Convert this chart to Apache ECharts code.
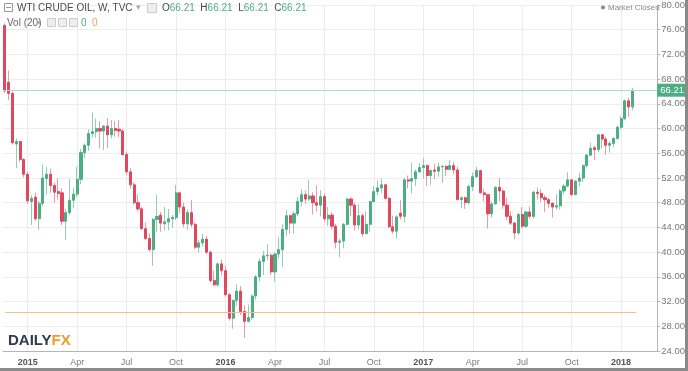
<!DOCTYPE html>
<html><head><meta charset="utf-8">
<script src="https://cdn.jsdelivr.net/npm/echarts@6.0.0/dist/echarts.min.js"></script>
<style>html,body{margin:0;padding:0;background:#fff;}#c{width:688px;height:371px;}</style>
</head><body><div id="c"></div><script>
// ---- data (weekly candles, first week starting 2014-11-24) ----
const firstWeek = '2014-11-24';
const emptyWeeksAfter = 6;
const opens = [
76.7,67.5,65.7,57.5,57.9,55.0,52.6,48.2,48.9,45.4,
47.9,51.9,52.6,50.8,49.8,49.6,45.0,46.4,48.4,49.4,
51.8,56.1,57.3,59.2,59.5,60.0,59.6,60.4,59.0,60.0,
59.9,59.6,55.8,53.0,50.9,48.0,47.0,43.8,42.2,40.4,
45.3,46.0,44.6,44.9,45.4,45.6,49.6,47.3,44.6,46.4,
44.5,40.8,41.5,42.1,40.0,35.4,34.7,38.1,37.0,33.1,
29.3,32.2,33.7,30.4,28.8,29.4,32.9,36.0,38.5,39.4,
39.5,36.8,39.7,40.4,43.7,45.9,44.7,46.2,48.2,49.3,
48.6,49.1,48.0,47.6,49.0,45.4,46.0,44.2,41.6,41.8,
44.5,48.6,47.6,44.4,45.9,43.0,44.5,48.2,49.8,50.4,
50.9,48.7,44.1,43.4,46.3,45.8,51.7,51.5,51.9,53.0,
53.7,54.0,52.4,53.3,53.1,53.8,53.9,53.4,54.0,53.3,
48.5,48.8,48.0,50.6,52.2,53.2,49.6,49.3,46.2,47.8,
50.5,49.9,47.6,45.8,44.7,43.1,46.1,44.2,46.5,45.8,
49.7,49.5,48.8,48.5,47.9,47.3,47.5,49.9,50.7,51.7,
49.3,51.5,52.0,54.0,55.7,56.9,56.6,59.0,58.3,57.3,
57.6,58.4,60.2,61.6,64.5,63.5];
const highs = [
77.0,69.4,66.0,58.4,58.0,55.2,53.0,49.2,49.6,48.3,
54.2,53.8,53.5,51.3,52.0,50.3,47.0,51.8,50.4,53.8,
56.7,57.6,59.9,62.6,61.6,61.2,60.6,61.7,61.4,61.2,
61.4,59.9,56.3,53.6,51.3,49.3,47.3,44.8,43.0,45.5,
49.3,46.5,47.3,47.0,46.0,50.9,49.8,48.0,46.9,48.4,
44.8,42.0,43.0,42.6,40.2,37.0,38.3,38.8,37.8,33.4,
32.3,34.8,34.5,31.4,31.5,33.2,36.3,39.0,40.2,41.3,
39.8,39.9,42.4,44.5,46.8,46.1,46.6,48.9,50.2,50.0,
51.7,49.7,50.8,50.0,49.5,47.3,46.5,44.6,42.2,44.7,
48.8,48.9,48.0,47.8,46.3,46.6,48.3,50.7,51.6,51.9,
51.0,49.0,45.9,46.0,48.4,52.0,52.4,54.5,53.4,54.4,
55.2,54.2,53.4,54.3,54.5,54.0,54.0,54.9,54.6,53.8,
49.0,49.0,50.9,52.9,53.8,53.3,50.2,49.4,48.2,50.6,
52.0,50.2,48.8,46.6,44.9,46.3,47.3,46.7,47.4,49.9,
50.4,50.2,49.3,48.8,48.1,49.4,50.2,51.0,52.9,51.8,
51.6,52.8,54.2,55.9,57.7,57.2,59.1,59.1,58.7,58.0,
58.6,60.5,62.0,64.7,65.0,66.6];
const lows = [
65.7,64.6,57.4,53.6,54.6,52.1,47.8,44.4,45.1,43.6,
47.4,49.3,49.6,48.0,48.5,44.4,42.0,46.0,47.1,48.9,
51.0,55.2,56.4,58.6,58.5,56.8,56.5,56.8,58.4,58.7,
58.6,55.6,52.5,50.3,47.7,46.6,43.6,41.9,40.1,37.8,
43.2,43.3,43.5,43.5,43.9,45.2,46.3,44.0,43.6,44.0,
40.5,39.9,40.9,39.7,35.1,34.5,34.4,36.2,32.8,28.9,
27.6,31.3,29.8,26.1,28.6,29.0,32.3,35.3,36.3,38.7,
36.3,35.2,39.0,37.6,42.6,43.0,43.0,45.8,47.4,47.8,
48.3,46.1,46.6,45.8,44.9,44.3,43.7,40.6,39.2,40.6,
44.3,45.8,43.5,43.7,42.5,42.9,43.3,48.0,49.2,49.6,
48.5,44.0,43.0,42.2,45.3,44.8,50.3,49.5,50.7,52.8,
51.9,50.7,50.9,51.8,52.2,51.2,52.3,53.2,52.6,48.4,
47.1,47.0,47.7,49.9,52.0,49.5,48.2,43.8,45.6,47.7,
48.2,47.0,45.2,44.4,42.1,42.8,43.8,43.9,45.4,45.4,
48.5,48.1,46.5,47.2,45.6,46.9,46.9,49.4,50.5,49.1,
49.2,50.7,51.3,53.7,55.5,54.9,56.2,56.8,55.8,56.1,
57.0,58.2,59.9,61.4,61.9,63.0];
const closes = [
66.1,65.7,57.7,57.9,55.0,52.6,48.3,48.7,45.4,47.9,
52.0,52.6,50.8,49.7,49.5,45.0,46.4,48.4,49.4,51.8,
56.1,57.3,59.2,59.5,60.0,59.6,60.4,59.0,60.0,59.7,
59.6,55.8,53.0,50.9,48.0,47.0,43.8,42.2,40.4,45.3,
45.8,44.7,44.9,45.4,45.6,49.6,47.3,44.6,46.4,44.5,
40.8,41.5,42.1,40.0,35.4,34.7,38.1,37.0,33.1,29.3,
32.2,33.7,30.4,28.8,29.4,32.9,36.0,38.5,39.4,39.5,
36.8,39.7,40.4,43.7,45.9,44.7,46.2,48.2,49.3,48.6,
49.1,48.0,47.6,49.0,45.4,46.0,44.2,41.6,41.8,44.5,
48.6,47.6,44.4,45.9,43.0,44.5,48.2,49.8,50.4,50.9,
48.7,44.1,43.4,45.7,45.8,51.7,51.5,51.9,53.0,53.7,
54.0,52.4,53.2,53.1,53.8,53.9,53.4,54.0,53.3,48.5,
48.8,48.0,50.6,52.2,53.2,49.6,49.3,46.2,47.8,50.5,
49.9,47.6,45.8,44.7,43.1,46.1,44.2,46.5,45.8,49.7,
49.5,48.8,48.5,47.9,47.3,47.5,49.9,50.7,51.7,49.3,
51.5,52.0,54.0,55.7,56.8,56.6,59.0,58.3,57.3,57.6,
58.4,60.2,61.6,64.5,63.5,66.21];
const lastPrice = 66.21;
const orangeLevel = 30.3;
const yMin = 24, yMax = 80, yStep = 4;
const monthNames = ['Jan','Feb','Mar','Apr','May','Jun','Jul','Aug','Sep','Oct','Nov','Dec'];

// ---- build categories (weeks) ----
const weeks = [];
const t0 = Date.parse(firstWeek + 'T00:00:00Z');
for (let i = 0; i < opens.length + emptyWeeksAfter; i++) {
  weeks.push(new Date(t0 + i * 7 * 86400000).toISOString().slice(0, 10));
}
function isQuarterStart(v) {
  const d = new Date(v + 'T00:00:00Z');
  return d.getUTCDate() <= 7 && d.getUTCMonth() % 3 === 0;
}
const quarterWeeks = weeks.filter(isQuarterStart);

const UP = '#4cae82', DOWN = '#e0485e', UPW = '#93cdb3', DOWNW = '#eb9aa5';
const bodyData = opens.map((o, i) => [o, closes[i], Math.min(o, closes[i]), Math.max(o, closes[i])]);
const wickData = opens.map((o, i) => [o, closes[i], lows[i], highs[i]]);

const FONT = '"Liberation Sans", Arial, sans-serif';
const chart = echarts.init(document.getElementById('c'), null, {renderer: 'canvas'});
chart.setOption({
  animation: false,
  backgroundColor: '#ffffff',
  grid: {left: 3, right: 30, top: 1, bottom: 20, containLabel: false},
  xAxis: {
    type: 'category', data: weeks, boundaryGap: true,
    axisLine: {show: true, lineStyle: {color: '#b5b5b5'}},
    axisTick: {show: false},
    splitLine: {show: false},
    axisLabel: {
      interval: (i, v) => isQuarterStart(v),
      color: '#7a7a7a', fontSize: 9, fontFamily: FONT, margin: 7,
      formatter: v => {
        const d = new Date(v + 'T00:00:00Z');
        return d.getUTCMonth() === 0 ? '{y|' + d.getUTCFullYear() + '}' : monthNames[d.getUTCMonth()];
      },
      rich: {y: {fontWeight: 'bold', color: '#555', fontSize: 9, fontFamily: FONT}}
    }
  },
  yAxis: {
    type: 'value', position: 'right', min: yMin, max: yMax, interval: yStep,
    axisLine: {show: true, lineStyle: {color: '#b5b5b5'}},
    axisTick: {show: true, length: 3, lineStyle: {color: '#b5b5b5'}},
    axisLabel: {formatter: v => v.toFixed(2), color: '#7a7a7a', fontSize: 9.5, fontFamily: FONT, margin: 4},
    splitLine: {show: true, lineStyle: {color: '#eeeeee', width: 1}}
  },
  series: [
    {
      name: 'wick', type: 'candlestick', data: wickData, barWidth: 1, z: 2,
      itemStyle: {color: UPW, color0: DOWNW, borderColor: UPW, borderColor0: DOWNW, borderWidth: 1},
      markLine: {
        silent: true, symbol: ['none', 'none'], z: 1,
        label: {show: false},
        lineStyle: {color: '#ececec', type: 'solid', width: 1},
        data: quarterWeeks.map(w => ({xAxis: w}))
      }
    },
    {
      name: 'body', type: 'candlestick', data: bodyData, barWidth: 2.6, z: 3,
      itemStyle: {color: UP, color0: DOWN, borderColor: UP, borderColor0: DOWN, borderWidth: 1},
      markLine: {
        silent: true, symbol: ['none', 'none'],
        data: [
          {yAxis: lastPrice, lineStyle: {color: '#a9dcd2', type: 'solid', width: 1},
           label: {show: true, position: 'end', formatter: lastPrice.toFixed(2), color: '#fff',
                   backgroundColor: '#4cae82', padding: [2, 3, 1, 3], fontSize: 9.5, fontFamily: FONT, distance: 0}},
          [{xAxis: weeks[0], yAxis: orangeLevel, lineStyle: {color: '#f3c08c', type: 'solid', width: 1}, label: {show: false}},
           {xAxis: weeks[opens.length], yAxis: orangeLevel}]
        ]
      }
    }
  ],
  graphic: [
    {type: 'rect', shape: {x: 685, y: 0, width: 3, height: 371}, style: {fill: '#8a8a8a'}, z: 100},
    {type: 'rect', shape: {x: 0, y: 368, width: 688, height: 3}, style: {fill: '#8a8a8a'}, z: 100},
    {type: 'rect', shape: {x: 4.5, y: 3.5, width: 8, height: 8}, style: {fill: '#fff', stroke: '#9a9a9a', lineWidth: 1}, z: 50},
    {type: 'line', shape: {x1: 6, y1: 7.5, x2: 11, y2: 7.5}, style: {stroke: '#9a9a9a', lineWidth: 1}, z: 51},
    {type: 'text', x: 17, y: 8, z: 50, style: {text: 'WTI CRUDE OIL, W, TVC', font: '10px ' + FONT, fill: '#4a4a4a', verticalAlign: 'middle'}},
    {type: 'text', x: 136, y: 8, z: 50, style: {text: '▾', font: '9px "DejaVu Sans"', fill: '#aaa', verticalAlign: 'middle'}},
    {type: 'rect', shape: {x: 147.5, y: 3.5, width: 9, height: 9}, style: {fill: '#eee', stroke: '#ccc'}, z: 50},
    {type: 'text', x: 162, y: 8, z: 50, style: {text: 'O{g|66.21}  H{g|66.21}  L{g|66.21}  C{g|66.21}', font: '10px ' + FONT, fill: '#4a4a4a', verticalAlign: 'middle',
       rich: {g: {fill: '#4cae82', font: '10px ' + FONT}}}},
    {type: 'text', x: 7, y: 23, z: 50, style: {text: 'Vol (20)', font: '10px ' + FONT, fill: '#666', verticalAlign: 'middle'}},
    {type: 'text', x: 37, y: 23, z: 50, style: {text: '▾', font: '8px "DejaVu Sans"', fill: '#aaa', verticalAlign: 'middle'}},
    {type: 'rect', shape: {x: 47.5, y: 18.5, width: 8, height: 8}, style: {fill: '#eee', stroke: '#ccc'}, z: 50},
    {type: 'rect', shape: {x: 58.5, y: 18.5, width: 8, height: 8}, style: {fill: '#eee', stroke: '#ccc'}, z: 50},
    {type: 'rect', shape: {x: 69.5, y: 18.5, width: 8, height: 8}, style: {fill: '#eee', stroke: '#ccc'}, z: 50},
    {type: 'text', x: 81, y: 23, z: 50, style: {text: '0', font: '10px ' + FONT, fill: '#4cae82', verticalAlign: 'middle'}},
    {type: 'text', x: 92, y: 23, z: 50, style: {text: '0', font: '10px ' + FONT, fill: '#f0a050', verticalAlign: 'middle'}},
    {type: 'circle', shape: {cx: 603, cy: 7.5, r: 2}, style: {fill: '#888'}, z: 50},
    {type: 'text', x: 608, y: 8, z: 50, style: {text: 'Market Closed', font: '8px ' + FONT, fill: '#8a8a8a', verticalAlign: 'middle'}},
    {type: 'text', x: 8, y: 341, z: 50, style: {text: 'DAILY{o|FX}', font: 'bold 15px ' + FONT, fill: '#2f3d4f', verticalAlign: 'middle',
       rich: {o: {fill: '#f39a2b', font: 'bold 15px ' + FONT}}}}
  ]
});
</script></body></html>
